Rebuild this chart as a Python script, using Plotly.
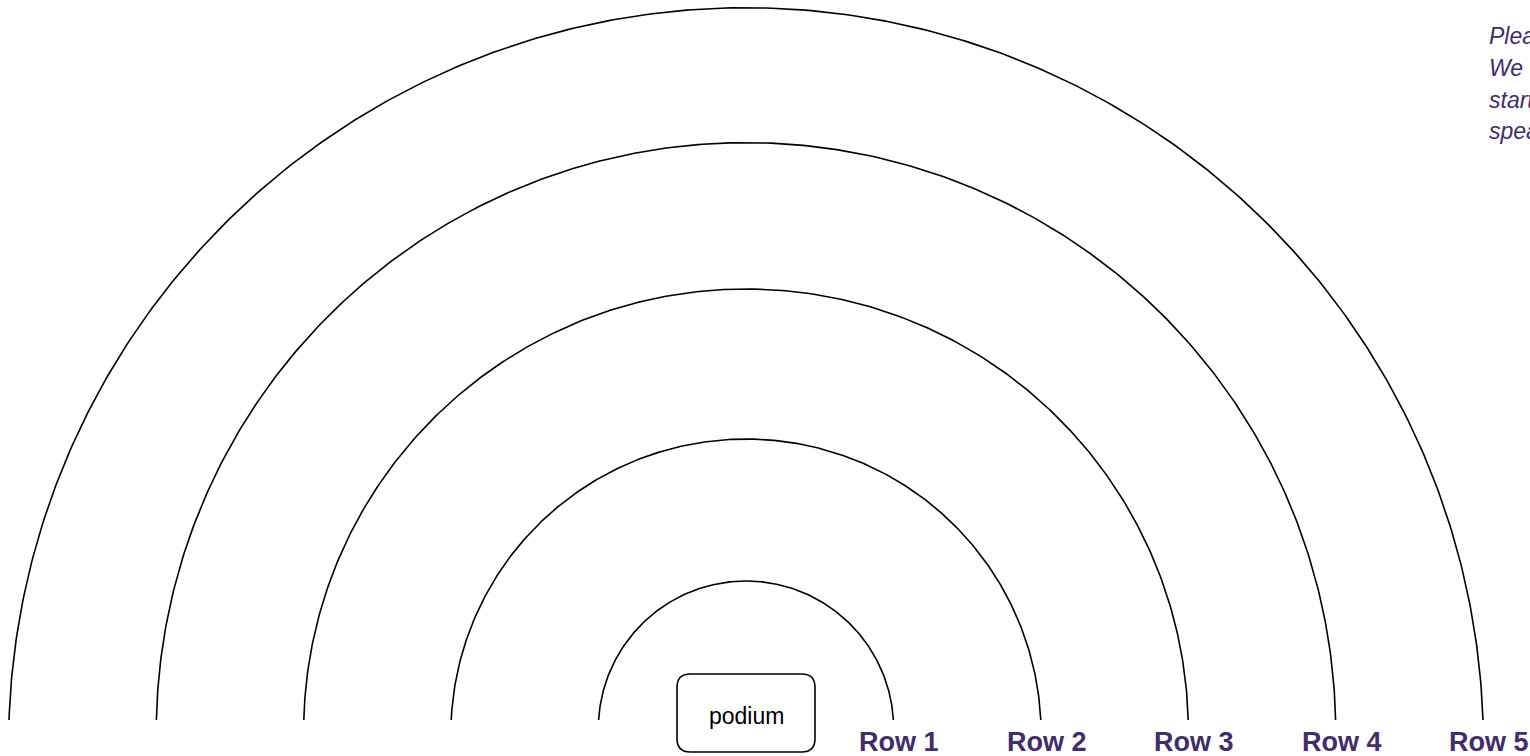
import numpy as np
import plotly.graph_objects as go

# ---- data (units: 1 = spacing between rows) ----
rows = ["Row 1", "Row 2", "Row 3", "Row 4", "Row 5"]
row_half_width = [1.0, 2.0, 3.0, 4.0, 5.0]
row_height = [0.943, 1.906, 2.924, 3.917, 4.832]
note_lines = ["Please take a seat.", "We will be", "starting with the", "speakers shortly."]
podium_label = "podium"

PURPLE = "#412d6b"
W, H = 1530, 756
PX = 147.4          # pixels per unit
CX, CY = 746, 720   # pixel position of the centre point

fig = go.Figure()

for name, w, h in zip(rows, row_half_width, row_height):
    R = (w * w + h * h) / (2 * h)
    cy = h - R
    t0 = np.arctan2(-cy, w)
    t = np.linspace(t0, np.pi - t0, 400)
    fig.add_trace(go.Scatter(
        x=R * np.cos(t), y=cy + R * np.sin(t), mode="lines",
        line=dict(color="black", width=1.6), hoverinfo="skip", showlegend=False, name=name))
    fig.add_annotation(x=w + 0.04, y=-0.147, xref="x", yref="y", text="<b>%s</b>" % name,
                       showarrow=False, xanchor="center", yanchor="middle",
                       font=dict(family="Liberation Sans, Arial, sans-serif", size=27, color=PURPLE))

# podium box with rounded corners
x0, x1, y0, y1, rr = -0.468, 0.468, -0.217, 0.312, 0.09
path = (f"M {x0+rr},{y1} L {x1-rr},{y1} Q {x1},{y1} {x1},{y1-rr} L {x1},{y0+rr} "
        f"Q {x1},{y0} {x1-rr},{y0} L {x0+rr},{y0} Q {x0},{y0} {x0},{y0+rr} "
        f"L {x0},{y1-rr} Q {x0},{y1} {x0+rr},{y1} Z")
fig.add_shape(type="path", path=path, xref="x", yref="y",
              line=dict(color="black", width=1.6), fillcolor="white")
fig.add_annotation(x=0, y=(720 - 716) / PX, xref="x", yref="y", text=podium_label, showarrow=False,
                   xanchor="center", yanchor="middle",
                   font=dict(family="Liberation Sans, Arial, sans-serif", size=23, color="black"))

# top-right note
baselines = [44, 76, 108, 139]
for line, b in zip(note_lines, baselines):
    fig.add_annotation(x=1487 / W, y=1 - (b - 8) / H, xref="paper", yref="paper", text="<i>%s</i>" % line,
                       showarrow=False, xanchor="left", yanchor="middle", align="left",
                       font=dict(family="Liberation Sans, Arial, sans-serif", size=23, color=PURPLE))

fig.update_layout(
    width=W, height=H, margin=dict(l=0, r=0, t=0, b=0),
    paper_bgcolor="white", plot_bgcolor="white", hovermode=False, showlegend=False,
    xaxis=dict(range=[-CX / PX, (W - CX) / PX], visible=False, fixedrange=True),
    yaxis=dict(range=[-(H - CY) / PX, CY / PX], visible=False, fixedrange=True),
)

fig.write_html("out.html", config={"displayModeBar": False},
               post_script="document.body.style.margin='0';document.body.style.overflow='hidden';")
